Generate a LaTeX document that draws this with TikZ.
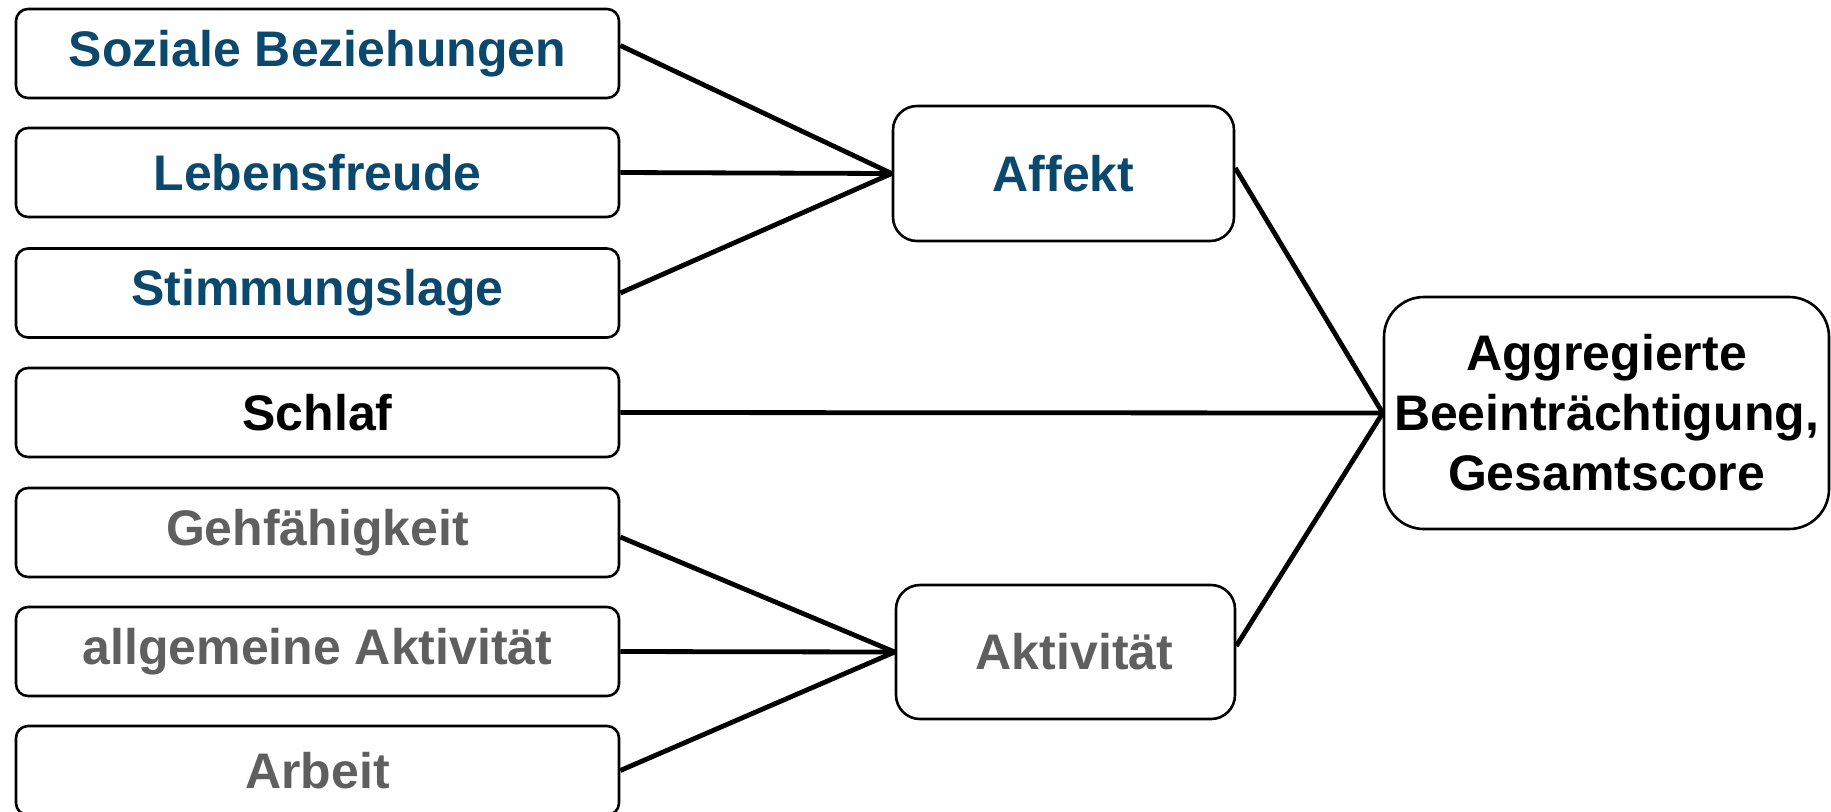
\documentclass[tikz,border=0pt]{standalone}
\usepackage{fontspec}
\setmainfont{Liberation Sans}
\definecolor{dblue}{RGB}{10,72,110}
\definecolor{dgrey}{RGB}{95,95,95}
\begin{document}
\begin{tikzpicture}[x=0.5pt,y=-0.5pt,
  leftbox/.style={draw,line width=1.3pt,rounded corners=6pt,minimum width=301.5pt,minimum height=44.5pt,inner sep=0pt,font=\fontsize{25}{30}\selectfont\bfseries},
  midbox/.style={draw,line width=1.3pt,rounded corners=12pt,minimum height=67.5pt,inner sep=0pt,font=\fontsize{25}{30}\selectfont\bfseries},
  aggbox/.style={draw,line width=1.3pt,rounded corners=20pt,minimum width=222.5pt,minimum height=116pt,inner sep=0pt,align=center,font=\fontsize{25}{30}\selectfont\bfseries},
  conn/.style={line width=2.4pt}]
\useasboundingbox (0,0) rectangle (1831,811);
\clip (0,0) rectangle (1831,811);
\node[leftbox,text=dblue] (s1) at (317.5,53.5) {\raisebox{-1.5pt}{Soziale Beziehungen}};
\node[leftbox,text=dblue] (s2) at (317.5,172.5) {\raisebox{-1pt}{Lebensfreude}};
\node[leftbox,text=dblue] (s3) at (317.5,293) {\raisebox{-1pt}{Stimmungslage}};
\node[leftbox,text=black] (s4) at (317.5,412.5) {Schlaf};
\node[leftbox,text=dgrey] (s5) at (317.5,532.5) {\raisebox{-1pt}{Gehfähigkeit}};
\node[leftbox,text=dgrey] (s6) at (317.5,651.5) {\raisebox{-1pt}{allgemeine Aktivität}};
\node[leftbox,text=dgrey] (s7) at (317.5,770.5) {Arbeit};
\node[midbox,minimum width=170.5pt,text=dblue] (aff) at (1063.5,173.5) {Affekt};
\node[midbox,minimum width=169.5pt,minimum height=67pt,text=dgrey] (akt) at (1065.5,652) {\hspace*{9pt}Aktivität};
\node[aggbox] (agg) at (1606.5,413) {Aggregierte\\Beeinträchtigung,\\Gesamtscore};
\draw[conn] ([yshift=4pt]s1.east) -- (aff.west);
\draw[conn] (s2.east) -- (aff.west);
\draw[conn] (s3.east) -- (aff.west);
\draw[conn] (s4.east) -- (agg.west);
\draw[conn] ([yshift=-2.25pt]s5.east) -- (akt.west);
\draw[conn] (s6.east) -- (akt.west);
\draw[conn] (s7.east) -- (akt.west);
\draw[conn] ([yshift=2.75pt]aff.east) -- (agg.west);
\draw[conn] ([yshift=3pt]akt.east) -- (agg.west);
\end{tikzpicture}
\end{document}
